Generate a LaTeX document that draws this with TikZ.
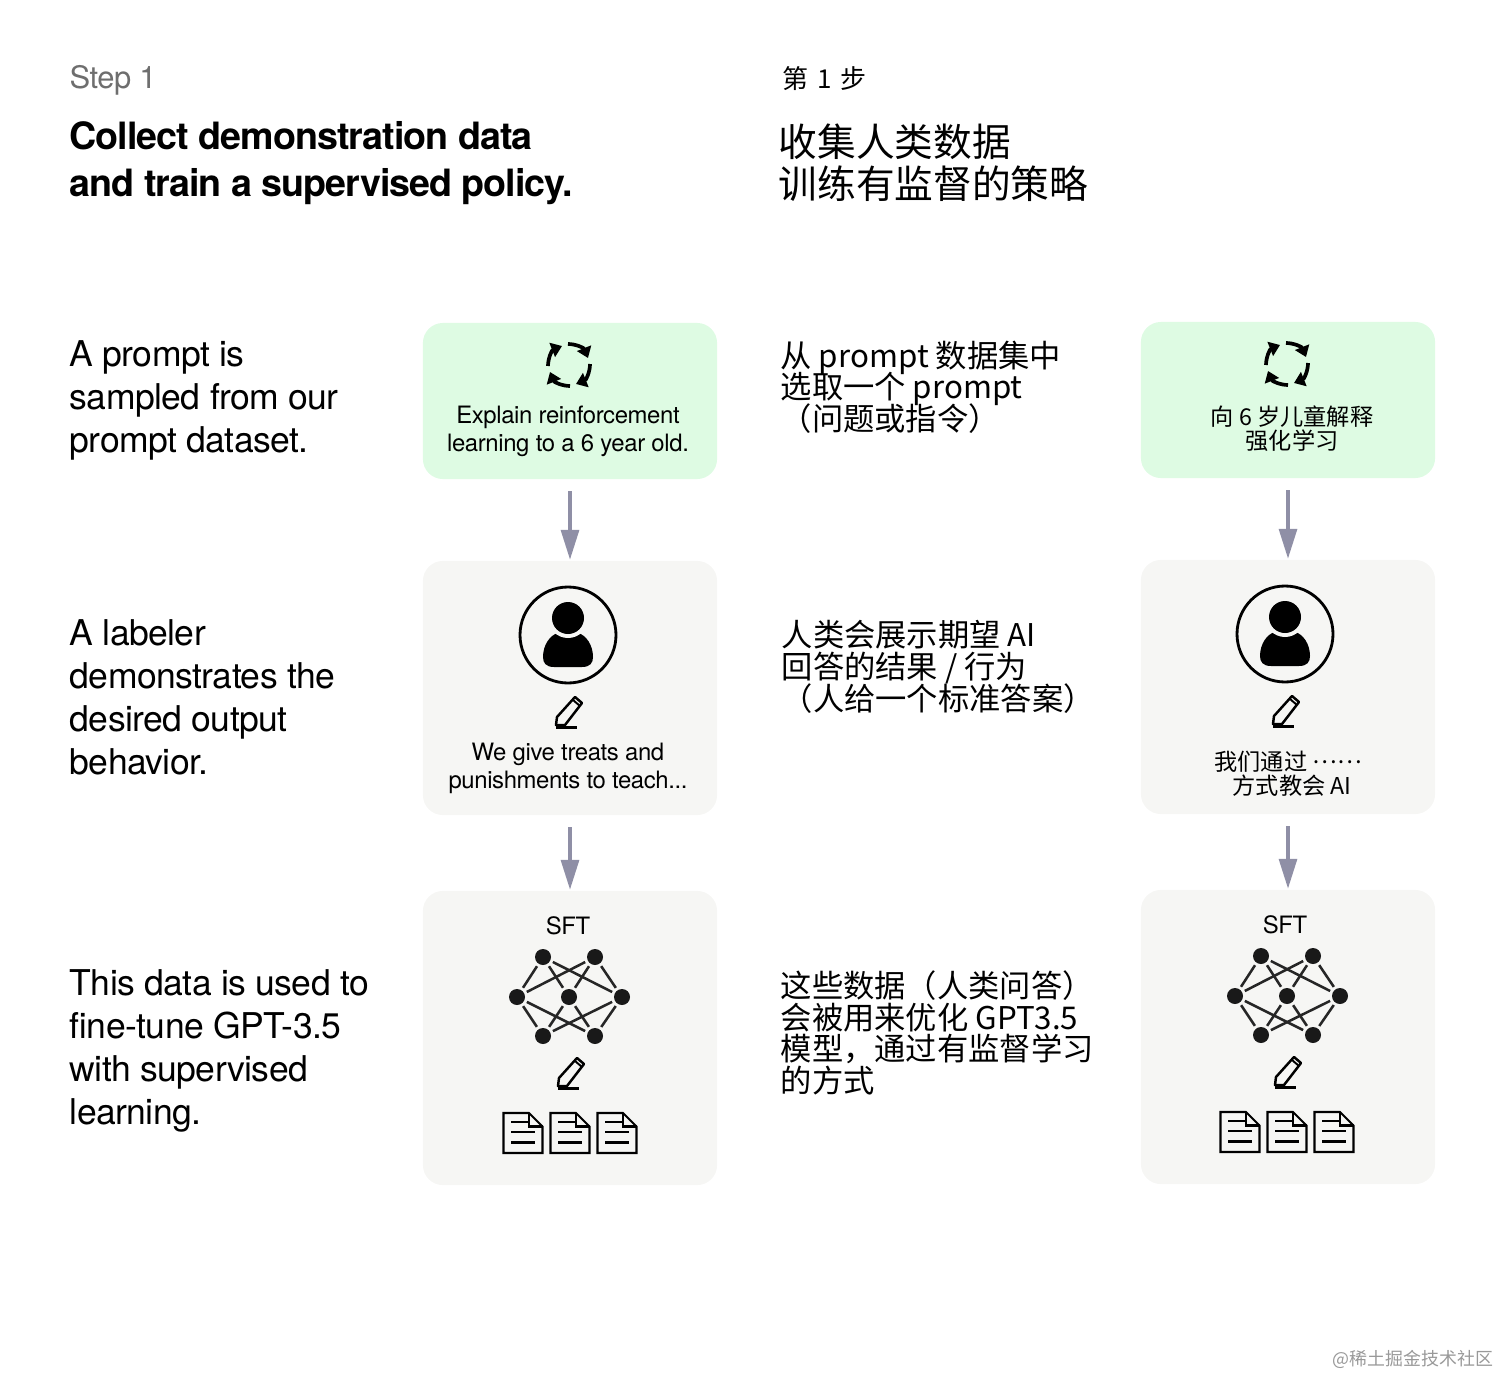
\documentclass[tikz,border=0pt]{standalone}
\usepackage{fontspec}
\setmainfont{TeX Gyre Heros}[LetterSpace=-1.6, BoldFeatures={LetterSpace=-2.6}]
\newfontfamily\cjk{Noto Sans CJK SC}
\usetikzlibrary{arrows.meta}
\setlength{\lineskiplimit}{-20pt}
\setlength{\normallineskiplimit}{-20pt}
\definecolor{boxgreen}{HTML}{DEFBE3}
\definecolor{boxgray}{HTML}{F6F6F4}
\definecolor{flowgray}{HTML}{8F8FA6}
\definecolor{stepgray}{HTML}{6E6E6E}
\tikzset{
  box/.style={rounded corners=0.2cm, minimum width=2.94cm, outer sep=0pt, inner sep=0pt},
  flow/.style={draw=flowgray, line width=1.15pt, -{Triangle[width=5pt,length=8.5pt]}, shorten <=12*0.2845pt, shorten >=0.3pt},
  txt/.style={inner sep=0pt, anchor=north west, align=left},
  steplabel/.style={txt, text=stepgray, font=\fontsize{8.8}{11}\selectfont},
  heading/.style={txt, font=\bfseries\fontsize{10.7}{13.4}\selectfont},
  body/.style={txt, font=\fontsize{10.1}{12.25}\selectfont},
  boxtext/.style={inner sep=0pt, align=center, font=\fontsize{6.8}{7.9}\selectfont},
  cnstep/.style={txt, font=\cjk\fontsize{7.4}{9}\selectfont},
  cnheading/.style={txt, font=\cjk\fontsize{11}{12}\selectfont},
  cnbody/.style={txt, font=\cjk\fontsize{8.9}{8.96}\selectfont},
  cnboxtext/.style={inner sep=0pt, align=center, font=\cjk\fontsize{6.6}{6.9}\selectfont},
  netdot/.style={circle, fill=black!90, minimum size=0.16cm, inner sep=0pt, outer sep=0.03cm},
  netline/.style={draw=black!85, line width=0.72pt},
  cycle/.pic={
    \foreach \a in {0,90,180,270}
      \draw[rotate=\a, line width=1.05pt, -{Triangle[width=4.2pt,length=3pt]}]
        (-1,-21) .. controls (7,-21) and (15,-17) .. (19,-7);
  },
  person/.pic={
    \draw[line width=0.8pt] (0,0) circle (48);
    \fill (-14,32) .. controls (-22,32) and (-25,28) .. (-25,22)
      .. controls (-25,10) and (-18,0) .. (-10,-2) -- (10,-2)
      .. controls (18,0) and (25,10) .. (25,22)
      .. controls (25,28) and (22,32) .. (14,32) -- cycle;
    \fill[boxgray] (0,-17) circle (20);
    \fill (0,-17) circle (16);
  },
  pen/.pic={
    \draw[line width=0.7pt, line join=round] (-13,12) -- (-12,4) -- (6,-16) -- (13,-10) -- (-4,12) -- cycle;
    \draw[line width=0.55pt] (4,-13) -- (11,-7);
    \draw[line width=0.8pt] (-13,14.5) -- (8,14.5);
  },
  doc/.pic={
    \draw[line width=0.6pt] (-19.5,-20) -- (6,-20) -- (19.5,-6.5) -- (19.5,20) -- (-19.5,20) -- cycle;
    \draw[line width=0.6pt] (6,-20) -- (6,-6.5) -- (19.5,-6.5);
    \draw[line width=0.6pt] (-12,-11) -- (6,-11) (-12,-1) -- (12,-1) (-12,9.5) -- (12,9.5);
  },
  net/.pic={
    \foreach \n/\px/\py in {t1/-26/-40,t2/26/-40,l/-52/0,c/0/0,r/53/0,b1/-26/39,b2/26/39}
      \node[netdot] (\n) at (\px,\py) {};
    \foreach \a in {t1,t2,b1,b2}
      \foreach \b in {l,c,r}
        \draw[netline] (\a) -- (\b);
  },
}
\begin{document}
\begin{tikzpicture}[x=0.01cm,y=-0.01cm]
\useasboundingbox (0,0) rectangle (1500,1376);

\node[steplabel] (stepL) at (69,65) {Step 1};
\node[heading] (titleL) at (69,121) {Collect demonstration data\\and train a supervised policy.};
\node[body] (bodyA) at (69,340) {A prompt is\\sampled from our\\prompt dataset.};
\node[body] (bodyB) at (69,619) {A labeler\\demonstrates the\\desired output\\behavior.};
\node[body] (bodyC) at (69,969) {This data is used to\\fine-tune GPT-3.5\\with supervised\\learning.};

\node[box, fill=boxgreen, minimum height=1.56cm] (promptL) at (570,401) {};
\node[box, fill=boxgray, minimum height=2.54cm] (labelL) at (570,688) {};
\node[box, fill=boxgray, minimum height=2.94cm] (sftL) at (570,1038) {};
\draw[flow] (promptL) -- (labelL);
\draw[flow] (labelL) -- (sftL);

\pic (cycleL) at (569,365) {cycle};
\node[boxtext] (promptTextL) at (568,431) {Explain reinforcement\\learning to a 6 year old.};
\pic (personL) at (568,635) {person};
\pic (penL) at (569,713) {pen};
\node[boxtext] (labelTextL) at (568,768) {We give treats and\\punishments to teach...};
\node[boxtext] (sftTextL) at (568,926) {SFT};
\pic (netL) at (569,997) {net};
\pic (penSftL) at (571,1074) {pen};
\foreach \dx in {523,570,617}
  \pic (docL\dx) at (\dx,1133) {doc};

\node[cnstep] (stepR) at (782,66) {第\,\,1\,\,步};
\node[cnheading] (titleR) at (778,123) {收集人类数据\\训练有监督的策略};
\node[cnbody] (bodyRA) at (780,340) {从 prompt 数据集中\\选取一个 prompt\\（问题或指令）};
\node[cnbody] (bodyRB) at (781,620) {人类会展示期望 AI\\回答的结果 / 行为\\（人给一个标准答案）};
\node[cnbody] (bodyRC) at (780,970) {这些数据（人类问答）\\会被用来优化 GPT3.5\\模型，通过有监督学习\\的方式};

\node[box, fill=boxgreen, minimum height=1.56cm] (promptR) at (1288,400) {};
\node[box, fill=boxgray, minimum height=2.54cm] (labelR) at (1288,687) {};
\node[box, fill=boxgray, minimum height=2.94cm] (sftR) at (1288,1037) {};
\draw[flow] (promptR) -- (labelR);
\draw[flow] (labelR) -- (sftR);

\pic (cycleR) at (1287,364) {cycle};
\node[cnboxtext] (promptTextR) at (1292,429) {向 6 岁儿童解释\\强化学习};
\pic (personR) at (1285,634) {person};
\pic (penR) at (1286,712) {pen};
\node[cnboxtext] (labelTextR) at (1288,774) {我们通过 \raisebox{0.32em}{……}\\\hspace*{2.3pt}方式教会 AI};
\node[boxtext] (sftTextR) at (1285,925) {SFT};
\pic (netR) at (1287,996) {net};
\pic (penSftR) at (1288,1073) {pen};
\foreach \dx in {1240,1287,1334}
  \pic (docR\dx) at (\dx,1132) {doc};

\node[inner sep=0pt, text=black!40, font=\cjk\fontsize{5.1}{6}\selectfont] (mark) at (1413,1359) {@稀土掘金技术社区};
\end{tikzpicture}
\end{document}
